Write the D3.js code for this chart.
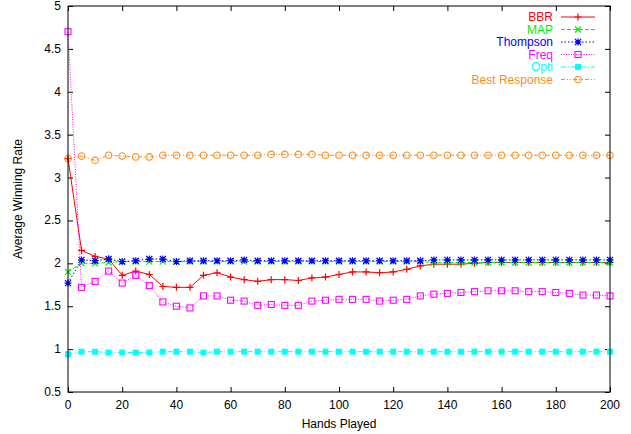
<!DOCTYPE html>
<html lang="en">
<head>
<meta charset="utf-8">
<title>Average Winning Rate</title>
<script src="https://d3js.org/d3.v7.min.js"></script>
<style>
  body { margin: 0; background: #fff; }
  svg text { font-family: "Liberation Sans", Arial, sans-serif; }
</style>
</head>
<body>
<div id="chart"></div>
<script>
// hands played (x categories)
const hands = [0, 5, 10, 15, 20, 25, 30, 35, 40, 45, 50, 55, 60, 65, 70, 75, 80, 85, 90, 95,
  100, 105, 110, 115, 120, 125, 130, 135, 140, 145, 150, 155, 160, 165, 170, 175, 180, 185, 190, 195, 200];

const bbr = [3.22, 2.15, 2.08, 2.05, 1.86, 1.91, 1.87, 1.73, 1.72, 1.72, 1.86, 1.89, 1.84, 1.81, 1.79, 1.81,
  1.81, 1.80, 1.83, 1.84, 1.87, 1.90, 1.90, 1.89, 1.90, 1.93, 1.97, 1.99, 1.99, 1.99, 2.00, 2.01,
  2.01, 2.01, 2.01, 2.01, 2.01, 2.01, 2.01, 2.01, 2.01];
const map = [1.90, 2.00, 2.00, 2.01, 2.02, 2.02, 2.02, 2.02, 2.02, 2.02, 2.02, 2.02, 2.02, 2.02, 2.02, 2.02,
  2.02, 2.02, 2.02, 2.02, 2.02, 2.02, 2.02, 2.02, 2.02, 2.02, 2.02, 2.01, 2.01, 2.01, 2.01, 2.01,
  2.01, 2.01, 2.01, 2.01, 2.01, 2.01, 2.01, 2.01, 2.01];
const thompson = [1.77, 2.04, 2.03, 2.05, 2.02, 2.03, 2.05, 2.05, 2.02, 2.03, 2.03, 2.03, 2.03, 2.04, 2.03, 2.03,
  2.03, 2.03, 2.03, 2.03, 2.03, 2.03, 2.03, 2.03, 2.03, 2.03, 2.03, 2.04, 2.04, 2.04, 2.04, 2.04,
  2.04, 2.04, 2.04, 2.04, 2.04, 2.04, 2.04, 2.04, 2.04];
const freq = [4.70, 1.72, 1.79, 1.91, 1.77, 1.86, 1.74, 1.55, 1.50, 1.48, 1.62, 1.62, 1.57, 1.56, 1.51, 1.52,
  1.51, 1.51, 1.56, 1.57, 1.58, 1.58, 1.58, 1.56, 1.57, 1.58, 1.62, 1.64, 1.65, 1.66, 1.67, 1.68,
  1.68, 1.68, 1.67, 1.67, 1.66, 1.65, 1.63, 1.63, 1.62];
const opti = [0.94, 0.97, 0.97, 0.96, 0.96, 0.96, 0.96, 0.97, 0.97, 0.97, 0.96, 0.97, 0.97, 0.97, 0.97, 0.97,
  0.97, 0.97, 0.97, 0.97, 0.97, 0.97, 0.97, 0.97, 0.97, 0.97, 0.97, 0.97, 0.97, 0.97, 0.97, 0.97,
  0.97, 0.97, 0.97, 0.97, 0.97, 0.97, 0.97, 0.97, 0.97];
const bestResponse = [3.22, 3.25, 3.20, 3.26, 3.25, 3.24, 3.24, 3.26, 3.26, 3.26, 3.26, 3.26, 3.26, 3.26, 3.26, 3.27,
  3.27, 3.27, 3.27, 3.26, 3.26, 3.26, 3.26, 3.26, 3.26, 3.26, 3.26, 3.26, 3.26, 3.26, 3.26, 3.26,
  3.26, 3.26, 3.26, 3.26, 3.26, 3.26, 3.26, 3.26, 3.26];

const xTicks = [0, 20, 40, 60, 80, 100, 120, 140, 160, 180, 200];
const yTicks = [0.5, 1, 1.5, 2, 2.5, 3, 3.5, 4, 4.5, 5];

const series = [
  { name: "BBR", values: bbr, color: "#ff0000", dash: null, marker: "plus" },
  { name: "MAP", values: map, color: "#00ee00", dash: "4,2", marker: "cross" },
  { name: "Thompson", values: thompson, color: "#0000ff", dash: "1.5,2", marker: "star" },
  { name: "Freq", values: freq, color: "#ff00ff", dash: "1,1.5", marker: "square" },
  { name: "Opti", values: opti, color: "#00ffff", dash: "5,2,1,2", marker: "fsquare" },
  { name: "Best Response", values: bestResponse, color: "#ff8c1a", dash: "4,2,1,2,1,2", marker: "circle" }
];

const width = 631, height = 434;
const margin = { top: 6, right: 21, bottom: 42, left: 68 };
const fs = 12;

const svg = d3.select("#chart").append("svg")
  .attr("width", width)
  .attr("height", height);

const x = d3.scaleLinear().domain([0, 200]).range([margin.left, width - margin.right]);
const y = d3.scaleLinear().domain([0.5, 5]).range([height - margin.bottom, margin.top]);

// axes (gnuplot style: ticks inward, mirrored)
const tk = 5;
svg.append("g")
  .attr("transform", `translate(0,${y(0.5)})`)
  .call(d3.axisTop(x).tickValues(xTicks).tickSize(tk).tickFormat(""))
  .call(g => g.select(".domain").remove());
svg.append("g")
  .attr("transform", `translate(0,${y(5)})`)
  .call(d3.axisBottom(x).tickValues(xTicks).tickSize(tk).tickFormat(""))
  .call(g => g.select(".domain").remove());
svg.append("g")
  .attr("transform", `translate(${x(0)},0)`)
  .call(d3.axisRight(y).tickValues(yTicks).tickSize(tk).tickFormat(""))
  .call(g => g.select(".domain").remove());
svg.append("g")
  .attr("transform", `translate(${x(200)},0)`)
  .call(d3.axisLeft(y).tickValues(yTicks).tickSize(tk).tickFormat(""))
  .call(g => g.select(".domain").remove());

svg.selectAll(".xl").data(xTicks).join("text")
  .attr("x", d => x(d)).attr("y", y(0.5) + 17)
  .attr("text-anchor", "middle").attr("font-size", fs).attr("fill", "#000")
  .text(d => d);
svg.selectAll(".yl").data(yTicks).join("text")
  .attr("x", x(0) - 7).attr("y", d => y(d) + 4)
  .attr("text-anchor", "end").attr("font-size", fs).attr("fill", "#000")
  .text(d => d);

svg.append("text").attr("x", (x(0) + x(200)) / 2).attr("y", 428)
  .attr("text-anchor", "middle").attr("font-size", fs).text("Hands Played");
svg.append("text")
  .attr("transform", `translate(22,${(y(0.5) + y(5)) / 2}) rotate(-90)`)
  .attr("text-anchor", "middle").attr("font-size", fs).text("Average Winning Rate");

function drawMarker(g, type, color) {
  if (type === "plus") {
    g.append("path").attr("d", "M-3.5,0H3.5M0,-3.5V3.5").attr("stroke", color).attr("stroke-width", 1.2);
  } else if (type === "cross") {
    g.append("path").attr("d", "M-3,-3L3,3M-3,3L3,-3").attr("stroke", color).attr("stroke-width", 1.2);
  } else if (type === "star") {
    g.append("path").attr("d", "M-3.5,0H3.5M0,-3.5V3.5M-3,-3L3,3M-3,3L3,-3").attr("stroke", color).attr("stroke-width", 1.2);
  } else if (type === "square") {
    g.append("rect").attr("x", -3).attr("y", -3).attr("width", 6).attr("height", 6)
      .attr("fill", "none").attr("stroke", color).attr("stroke-width", 1.1);
  } else if (type === "fsquare") {
    g.append("rect").attr("x", -3).attr("y", -3).attr("width", 6).attr("height", 6).attr("fill", color);
  } else if (type === "circle") {
    g.append("circle").attr("r", 3.3).attr("fill", "none").attr("stroke", color).attr("stroke-width", 1.1);
  }
}

const line = d3.line().x(d => x(d[0])).y(d => y(d[1]));
const plot = svg.append("g");

series.forEach(s => {
  const pts = hands.map((h, i) => [h, s.values[i]]);
  const g = plot.append("g");
  g.append("path").datum(pts)
    .attr("d", line)
    .attr("fill", "none")
    .attr("stroke", s.color)
    .attr("stroke-width", 1)
    .attr("stroke-dasharray", s.dash);
  g.selectAll("g.m").data(pts).join("g")
    .attr("transform", d => `translate(${x(d[0])},${y(d[1])})`)
    .each(function () { drawMarker(d3.select(this), s.marker, s.color); });
});

// legend
const legend = svg.append("g");
series.forEach((s, i) => {
  const ly = 17 + i * 12.5;
  legend.append("text").attr("x", 553).attr("y", ly + 4)
    .attr("text-anchor", "end").attr("font-size", fs).attr("fill", s.color).text(s.name);
  legend.append("line").attr("x1", 561).attr("x2", 595).attr("y1", ly).attr("y2", ly)
    .attr("stroke", s.color).attr("stroke-width", 1).attr("stroke-dasharray", s.dash);
  drawMarker(legend.append("g").attr("transform", `translate(578,${ly})`), s.marker, s.color);
});

// border
svg.append("rect")
  .attr("x", x(0)).attr("y", y(5))
  .attr("width", x(200) - x(0)).attr("height", y(0.5) - y(5))
  .attr("fill", "none").attr("stroke", "#000").attr("stroke-width", 1);
</script>
</body>
</html>
